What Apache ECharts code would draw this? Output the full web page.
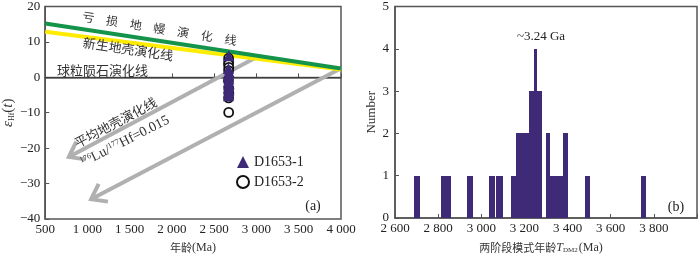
<!DOCTYPE html>
<html><head><meta charset="utf-8">
<script src="https://cdn.jsdelivr.net/npm/echarts@6/dist/echarts.min.js"></script>
<style>html,body{margin:0;padding:0;background:#fff}#c{width:700px;height:259px}</style>
</head><body><div id="c"></div>
<script>
// ---------- data ----------
const dmLine = [[500, 15.2], [4000, 2.5]];          // depleted mantle
const crustLine = [[500, 12.9], [4000, 2.2]];       // new crust
const chondLine = [[500, 0], [4000, 0]];            // chondrite
const arrowLines = [[2977, 5.4, 779, -22.5], [3990, 2.4, 1043, -34.4]]; // average crust trends
const s1Age = [2672, 2668, 2675, 2670, 2665, 2673, 2669, 2676, 2671, 2667, 2674, 2670, 2672, 2668];
const s1Hf  = [6.1, 2.5, 1.6, 0.8, 0.2, -0.5, -1.2, -1.8, -2.4, -3.0, -3.6, -4.2, -4.8, -5.2];
const s2Age = [2670, 2671, 2669, 2672, 2670, 2668, 2671, 2673, 2670, 2671];
const s2Hf  = [5.4, 4.5, 3.7, 2.8, 1.9, -1.0, -3.0, -4.5, -5.8, -9.9];
const binStart = [2690, 2815, 2935, 3035, 3070, 3140, 3160, 3220, 3245, 3260, 3300, 3320, 3380, 3480, 3740];
const binEnd   = [2715, 2860, 2960, 3065, 3100, 3160, 3220, 3245, 3260, 3280, 3320, 3380, 3400, 3505, 3765];
const binCount = [1, 1, 1, 1, 1, 1, 2, 3, 4, 3, 2, 1, 2, 1, 1];

const SERIF = "Liberation Serif, Noto Sans CJK SC, serif";
const CJK = "Noto Sans CJK SC, sans-serif";
const fmtK = v => v >= 1000 ? Math.floor(v / 1000) + ' ' + String(v % 1000).padStart(3, '0') : String(v);
const fmtNeg = v => v < 0 ? '\u2212' + Math.abs(v) : String(v);
const axisCol = '#555';
const purple = '#3f2a78';

const chart = echarts.init(document.getElementById('c'), null, {renderer: 'canvas'});
const zip = (a, b) => a.map((v, i) => [v, b[i]]);

function txt(x, y, text, size, family, rotDeg, fill) {
  return {type: 'text', x: x, y: y, rotation: (rotDeg || 0) * Math.PI / 180, z: 100,
    style: {text: text, fontSize: size, fontFamily: family, fill: fill || '#333', align: 'center', verticalAlign: 'middle'}};
}

chart.setOption({
  animation: false,
  backgroundColor: '#fff',
  grid: [
    {left: 40, top: 3, width: 301, height: 223, show: true, borderColor: axisCol, borderWidth: 1.5, backgroundColor: 'transparent'},
    {left: 395, top: 4, width: 303, height: 223, show: true, borderColor: axisCol, borderWidth: 1.5, backgroundColor: 'transparent'}
  ],
  xAxis: [
    {gridIndex: 0, type: 'value', min: 500, max: 4000, interval: 500,
     axisLine: {lineStyle: {color: axisCol, width: 1.5}},
     axisTick: {inside: true, length: 4, lineStyle: {color: axisCol}},
     splitLine: {show: false},
     axisLabel: {formatter: fmtK, color: '#222', fontFamily: SERIF, fontSize: 13, margin: 4},
     name: '{c|年龄}(Ma)', nameLocation: 'middle', nameGap: 23,
     nameTextStyle: {color: '#333', fontFamily: SERIF, fontSize: 12,
       rich: {c: {fontFamily: CJK, fontSize: 11, color: '#333'}}}},
    {gridIndex: 1, type: 'value', min: 2600, max: 4000, interval: 200,
     axisLine: {lineStyle: {color: axisCol, width: 1.5}},
     axisTick: {inside: true, length: 4, lineStyle: {color: axisCol}},
     splitLine: {show: false},
     axisLabel: {formatter: v => v >= 4000 ? '' : fmtK(v), color: '#222', fontFamily: SERIF, fontSize: 13, margin: 4},
     name: '{c|两阶段模式年龄}{i|T}{s|DM2}(Ma)', nameLocation: 'middle', nameGap: 23,
     nameTextStyle: {color: '#333', fontFamily: SERIF, fontSize: 12, padding: [0, 10, 0, 0],
       rich: {c: {fontFamily: CJK, fontSize: 11, color: '#333'},
              i: {fontStyle: 'italic', fontFamily: SERIF, fontSize: 12, color: '#333'},
              s: {fontFamily: SERIF, fontSize: 7, color: '#333', verticalAlign: 'bottom', padding: [6, 1, 0, 0]}}}}
  ],
  yAxis: [
    {gridIndex: 0, type: 'value', min: -40, max: 20, interval: 10,
     axisLine: {lineStyle: {color: axisCol, width: 1.5}},
     axisTick: {inside: true, length: 4, lineStyle: {color: axisCol}},
     splitLine: {show: false},
     axisLabel: {formatter: fmtNeg, color: '#222', fontFamily: SERIF, fontSize: 13, margin: 5},
     name: '{e|ε}{s|Hf}{n|(}{i|t}{n|)}', nameLocation: 'middle', nameGap: 26, nameRotate: 90,
     nameTextStyle: {color: '#333', rich: {
       e: {fontFamily: SERIF, fontStyle: 'italic', fontSize: 15, color: '#333'},
       s: {fontFamily: SERIF, fontSize: 8, color: '#333', verticalAlign: 'bottom', padding: [7, 0, 0, 0]},
       n: {fontFamily: SERIF, fontSize: 15, color: '#333'},
       i: {fontFamily: SERIF, fontStyle: 'italic', fontSize: 15, color: '#333'}}}},
    {gridIndex: 1, type: 'value', min: 0, max: 5, interval: 1,
     axisLine: {lineStyle: {color: axisCol, width: 1.5}},
     axisTick: {inside: true, length: 4, lineStyle: {color: axisCol}},
     splitLine: {show: false},
     axisLabel: {color: '#222', fontFamily: SERIF, fontSize: 13, margin: 6},
     name: 'Number', nameLocation: 'middle', nameGap: 17, nameRotate: 90,
     nameTextStyle: {color: '#333', fontFamily: SERIF, fontSize: 13}}
  ],
  legend: {
    orient: 'vertical', left: 231, top: 150, itemWidth: 12, itemHeight: 12, itemGap: 6,
    data: ['D1653-1', 'D1653-2'],
    textStyle: {fontFamily: SERIF, fontSize: 14, color: '#222'}
  },
  series: [
    {type: 'line', xAxisIndex: 0, yAxisIndex: 0, data: chondLine, showSymbol: false, silent: true,
     lineStyle: {color: '#333', width: 1}, z: 2},
    {type: 'custom', xAxisIndex: 0, yAxisIndex: 0, data: arrowLines, z: 3, silent: true,
     encode: {x: [0, 2], y: [1, 3]},
     renderItem: function (params, api) {
       const p1 = api.coord([api.value(0), api.value(1)]);
       const p2 = api.coord([api.value(2), api.value(3)]);
       const dx = p1[0] - p2[0], dy = p1[1] - p2[1];
       const L = Math.sqrt(dx * dx + dy * dy);
       const ux = dx / L, uy = dy / L;
       const a = 36 * Math.PI / 180, len = 17;
       const rot = (s) => [p2[0] + len * (ux * Math.cos(s) - uy * Math.sin(s)), p2[1] + len * (ux * Math.sin(s) + uy * Math.cos(s))];
       const style = {stroke: '#b0b0b0', lineWidth: 4, fill: null, lineJoin: 'miter', lineCap: 'butt'};
       return {type: 'group', children: [
         {type: 'line', shape: {x1: p1[0], y1: p1[1], x2: p2[0] + ux * 1.5, y2: p2[1] + uy * 1.5}, style: style},
         {type: 'polyline', shape: {points: [rot(a), p2, rot(-a)]}, style: style}
       ]};
     }},
    {type: 'line', xAxisIndex: 0, yAxisIndex: 0, data: crustLine, showSymbol: false, silent: true,
     lineStyle: {color: '#ffec00', width: 4}, z: 4},
    {type: 'line', xAxisIndex: 0, yAxisIndex: 0, data: dmLine, showSymbol: false, silent: true,
     lineStyle: {color: '#13944a', width: 4}, z: 5},
    {name: 'D1653-2', type: 'scatter', xAxisIndex: 0, yAxisIndex: 0, data: zip(s2Age, s2Hf),
     symbol: 'circle', symbolSize: 9, z: 6,
     itemStyle: {color: '#fff', borderColor: '#111', borderWidth: 1.8, opacity: 1}},
    {name: 'D1653-1', type: 'scatter', xAxisIndex: 0, yAxisIndex: 0, data: zip(s1Age, s1Hf),
     symbol: 'triangle', symbolSize: 11, z: 7,
     itemStyle: {color: purple, opacity: 1}},
    {type: 'custom', xAxisIndex: 1, yAxisIndex: 1, silent: true,
     data: binStart.map((s, i) => [s, binEnd[i], binCount[i]]),
     encode: {x: [0, 1], y: 2},
     renderItem: function (params, api) {
       const p0 = api.coord([api.value(0), api.value(2)]);
       const p1 = api.coord([api.value(1), 0]);
       const x0 = Math.round(p0[0]), x1 = Math.round(p1[0]);
       const y0 = Math.round(p0[1]), y1 = Math.round(p1[1]);
       return {type: 'rect', shape: {x: x0, y: y0, width: x1 - x0, height: y1 - y0},
               style: {fill: purple}};
     }}
  ],
  graphic: [
    txt(159.5, 28.5, '亏\u3000损\u3000地\u3000幔\u3000演\u3000化\u3000线', 12, CJK, -9),
    txt(128, 49, '新生地壳演化线', 13, CJK, -8.5),
    txt(102.5, 70, '球粒陨石演化线', 13, CJK, 0),
    txt(115.5, 122.5, '平均地壳演化线', 13, CJK, 28),
    {type: 'text', x: 125, y: 141.5, rotation: 27 * Math.PI / 180, z: 100,
     style: {text: '{u|176}{n|Lu/}{u|177}{n|Hf=0.015}', align: 'center', verticalAlign: 'middle',
       rich: {u: {fontFamily: SERIF, fontSize: 8, fill: '#333', verticalAlign: 'top', padding: [0, 0, 6, 0]},
              n: {fontFamily: SERIF, fontSize: 14, fill: '#333'}}}},
    txt(313, 206, '(a)', 14, SERIF, 0, '#222'),
    txt(676, 207, '(b)', 14, SERIF, 0, '#222'),
    txt(541, 37, '~3.24 Ga', 13, SERIF, 0, '#222')
  ]
});
</script></body></html>
